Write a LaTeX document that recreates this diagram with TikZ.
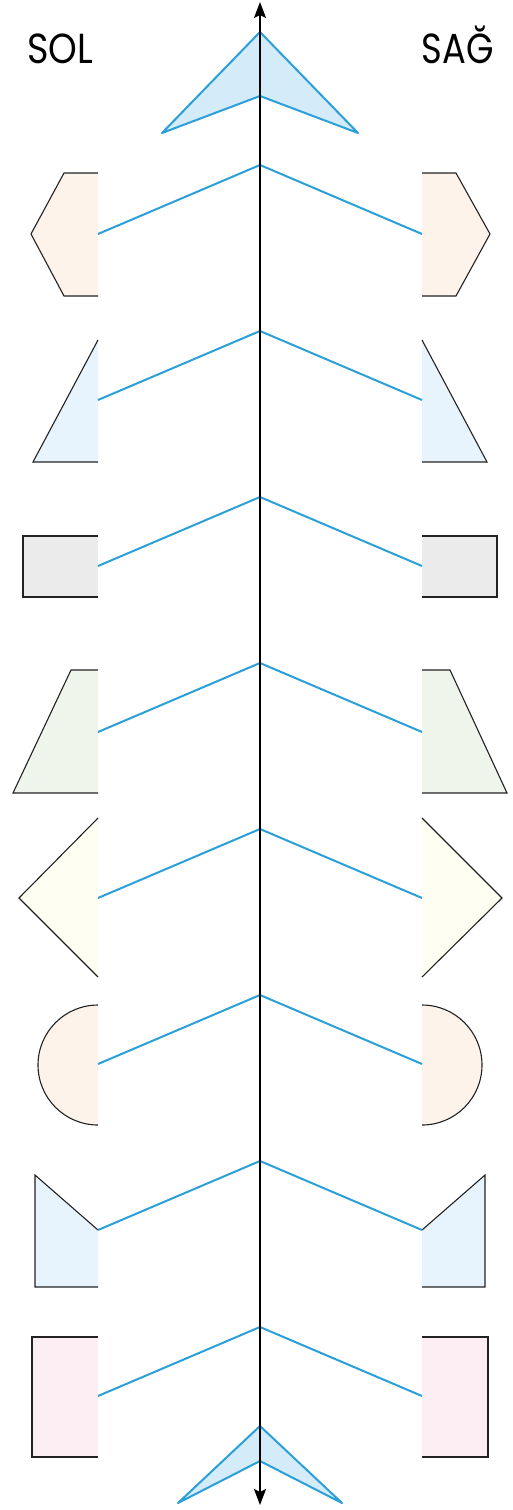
\documentclass[tikz,border=0pt]{standalone}
\usepackage{fontspec}
\setmainfont{Poppins}
\usetikzlibrary{arrows.meta}
\definecolor{cblue}{HTML}{2A9FD8}
\definecolor{ctipfill}{HTML}{D4EBF9}
\definecolor{cpeach}{HTML}{FDF3EA}
\definecolor{clblue}{HTML}{E8F4FD}
\definecolor{cgray}{HTML}{EBEBEB}
\definecolor{cgreen}{HTML}{F0F5EC}
\definecolor{cyellow}{HTML}{FFFEF2}
\definecolor{cpink}{HTML}{FDEEF4}
\definecolor{cedge}{HTML}{222222}
\tikzset{
  shapeedge/.style={draw=cedge, line width=1.1pt, line join=miter},
  chevron/.style={draw=cblue, line width=2pt},
  tipshape/.style={draw=cblue, fill=ctipfill, line width=2pt, line join=round},
  axis/.style={draw=black, line width=2pt, {Stealth[length=16pt,width=12pt,inset=3pt]}-{Stealth[length=16pt,width=12pt,inset=3pt]}},
  sidelabel/.style={font=\fontsize{42}{42}\selectfont, inner sep=0pt}
}
\begin{document}
\begin{tikzpicture}[x=1pt,y=-1pt]
\useasboundingbox (0,0) rectangle (513,1510);
% axis ends
\coordinate (top) at (260,2);
\coordinate (bot) at (260,1505);
% labels
\node[sidelabel, anchor=base west] (sol) at (27,63) {\scalebox{0.87}[1]{SOL}};
\node[sidelabel, anchor=base east] (sag) at (494,63) {\scalebox{0.84}[1]{SAĞ}};
% top arrowhead
\draw[tipshape] (260,32) -- (162,133) -- (260,96) -- (358,133) -- cycle;
% bottom fletching
\draw[tipshape] (260,1426) -- (178,1503) -- (260,1461) -- (342,1503) -- cycle;
% chevron coordinates
\foreach \i in {0,...,7}{
  \pgfmathsetmacro{\ya}{165+166*\i}
  \pgfmathsetmacro{\yb}{\ya+69}
  \coordinate (apex\i) at (260,\ya);
  \coordinate (le\i) at (98,\yb);
  \coordinate (re\i) at (422,\yb);
}
% shape 1: hexagon halves
\draw[shapeedge, fill=cpeach] (98,173) -- (64,173) -- (31,234) -- (64,296) -- (98,296);
\draw[shapeedge, fill=cpeach] (422,173) -- (456,173) -- (490,234) -- (456,296) -- (422,296);
% shape 2: triangles
\draw[shapeedge, fill=clblue] (98,340) -- (33,462) -- (98,462);
\draw[shapeedge, fill=clblue] (422,340) -- (487,462) -- (422,462);
% shape 3: rectangles
\draw[shapeedge, fill=cgray] (98,536) -- (23,536) -- (23,597) -- (98,597);
\draw[shapeedge, fill=cgray] (422,536) -- (497,536) -- (497,597) -- (422,597);
% shape 4: trapezoids
\draw[shapeedge, fill=cgreen] (98,670) -- (71,670) -- (13,793) -- (98,793);
\draw[shapeedge, fill=cgreen] (422,670) -- (450,670) -- (507,793) -- (422,793);
% shape 5: arrow halves
\draw[shapeedge, fill=cyellow] (98,818) -- (19,898) -- (98,977);
\draw[shapeedge, fill=cyellow] (422,818) -- (502,898) -- (422,977);
% shape 6: semicircles
\draw[shapeedge, fill=cpeach] (98,1005) arc[start angle=-90, end angle=-270, radius=60];
\draw[shapeedge, fill=cpeach] (422,1005) arc[start angle=-90, end angle=90, radius=60];
% shape 7: pentagons
\draw[shapeedge, fill=clblue] (98,1230) -- (35,1175) -- (35,1287) -- (98,1287);
\draw[shapeedge, fill=clblue] (422,1230) -- (485,1175) -- (485,1287) -- (422,1287);
% shape 8: rectangles
\draw[shapeedge, fill=cpink] (98,1337) -- (32,1337) -- (32,1457) -- (98,1457);
\draw[shapeedge, fill=cpink] (422,1337) -- (488,1337) -- (488,1457) -- (422,1457);
% chevrons
\foreach \i in {0,...,7}{
  \draw[chevron] (le\i) -- (apex\i) -- (re\i);
}
% axis
\draw[axis] (bot) -- (top);
\end{tikzpicture}
\end{document}
